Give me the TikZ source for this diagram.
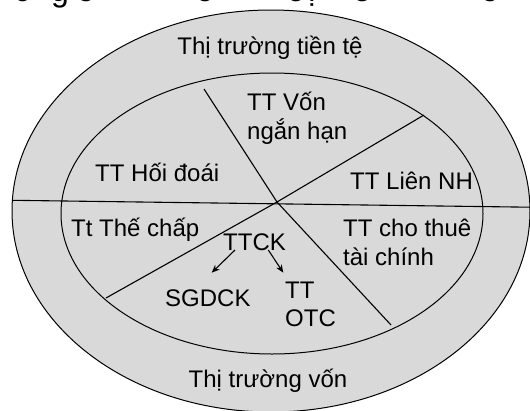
\documentclass[tikz,border=0pt]{standalone}
\usepackage{fontspec}
\setmainfont{Liberation Sans}
\usetikzlibrary{arrows.meta,calc}
\definecolor{fillgray}{RGB}{217,217,217}
\begin{document}
\begin{tikzpicture}[x=1pt,y=-1pt,
  lbl/.style={font=\fontsize{24}{28.5}\selectfont, inner sep=0pt, anchor=base west},
  ttl/.style={font=\fontsize{32}{36}\selectfont, inner sep=0pt, anchor=base},
  ring/.style={line width=1pt},
  divider/.style={line width=1.1pt},
  arr/.style={line width=1.1pt, -{Stealth[length=8pt,width=6.5pt]}}]
\useasboundingbox (0,0) rectangle (530,410);
\clip (0,0) rectangle (530,410);
% fragments of the cut-off heading
\node[ttl] (h1) at (22,1.0) {c};
\node[ttl] (h2) at (60,1.0) {g};
\node[ttl] (h3) at (86,1.0) {o};
\node[ttl] (h4) at (205,1.0) {o};
\node[ttl] (h5) at (296,1.0) {o};
\node[ttl] (h6) at (312,1.0) {ị};
\node[ttl] (h7) at (362,1.0) {e};
\node[ttl] (h8) at (490,1.0) {o};
% ellipses
\draw[ring, fill=fillgray] (271,211) ellipse [x radius=259, y radius=201];
\draw[ring] (272,213.5) ellipse [x radius=211, y radius=140.5];
% dividers
\coordinate (c) at (277,202);
\coordinate (hl) at (12,200.3);
\coordinate (hr) at (530,207.2);
\coordinate (d1a) at (204,89);
\coordinate (d1b) at (391,325);
\coordinate (d2a) at (424,115);
\coordinate (d2b) at (106,298);
\draw[divider] (hl) -- (hr);
\draw[divider] (d1a) -- (c) -- (d1b);
\draw[divider] (d2a) -- (c) -- (d2b);
% labels
\node[lbl, anchor=base] (ttt) at (270,54) {Thị trường tiền tệ};
\node[lbl] (von) at (247,110) {\begin{tabular}[t]{@{}l@{}}TT Vốn\\ngắn hạn\end{tabular}};
\node[lbl] (hoi) at (95,181.7) {TT Hối đoái};
\node[lbl] (lien) at (350,189.3) {TT Liên NH};
\node[lbl] (the) at (71,236.7) {Tt Thế chấp};
\node[lbl] (thue) at (343,236.7) {\begin{tabular}[t]{@{}l@{}}TT cho thuê\\tài chính\end{tabular}};
\node[lbl] (ttck) at (223,250) {TTCK};
\node[lbl] (sgd) at (165,306) {SGDCK};
\node[lbl] (otc) at (285,298.3) {\begin{tabular}[t]{@{}l@{}}TT\\OTC\end{tabular}};
\node[lbl, anchor=base] (ttv) at (268,387) {Thị trường vốn};
% arrows
\draw[arr] ([shift={(12,0)}]ttck.base west) -- ([shift={(46.7,-33.3)}]sgd.base west);
\draw[arr] ([shift={(45.3,0)}]ttck.base west) -- ([shift={(-1.7,-25.6)}]otc.base west);
\end{tikzpicture}
\end{document}
